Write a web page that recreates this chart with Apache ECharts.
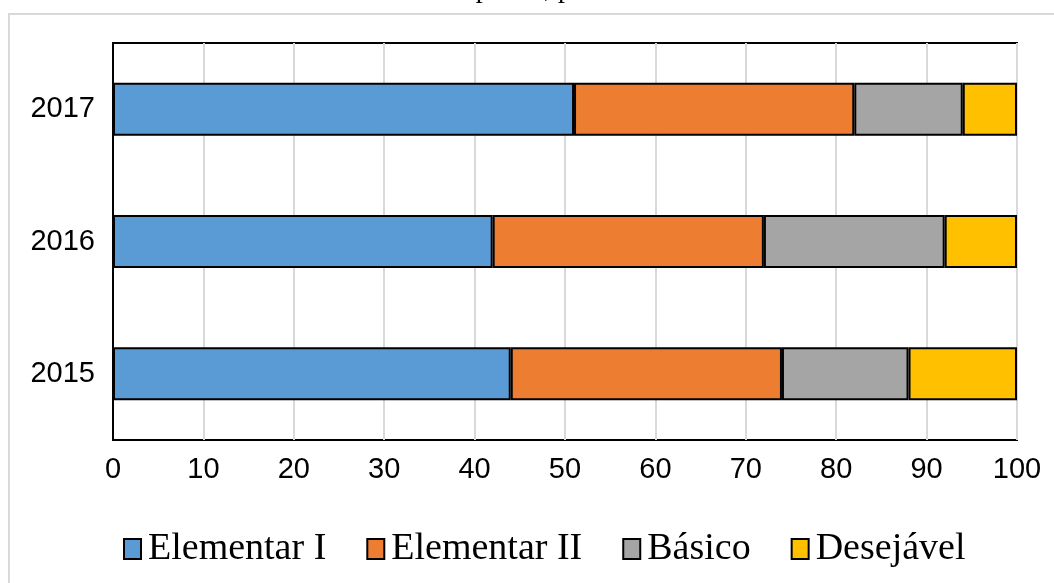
<!DOCTYPE html>
<html>
<head>
<meta charset="utf-8">
<script src="https://cdn.jsdelivr.net/npm/echarts@6/dist/echarts.min.js"></script>
<style>html,body{margin:0;padding:0;background:#fff;}#c{width:1054px;height:583px;}</style>
</head>
<body>
<div id="c"></div>
<script>
const years = ['2015', '2016', '2017'];
const elementarI = [44, 42, 51];
const elementarII = [30, 30, 31];
const basico = [14, 20, 12];
const desejavel = [12, 8, 6];
const xTicks = [0, 10, 20, 30, 40, 50, 60, 70, 80, 90, 100];
const titleText = 'desempenho, por ano.';

const seriesDefs = [
  {name: 'Elementar I', data: elementarI, color: '#5b9bd5'},
  {name: 'Elementar II', data: elementarII, color: '#ed7d31'},
  {name: 'Básico', data: basico, color: '#a5a5a5'},
  {name: 'Desejável', data: desejavel, color: '#ffc000'}
];

const chart = echarts.init(document.getElementById('c'), null, {renderer: 'canvas'});
chart.setOption({
  animation: false,
  backgroundColor: '#fff',
  graphic: [
    {type: 'rect', shape: {x: 9, y: 14, width: 1100, height: 620}, style: {fill: 'none', stroke: '#d9d9d9', lineWidth: 2}, z: -10},
    {type: 'text', left: 'center', top: -24, style: {text: titleText, font: '28px "Liberation Serif", "Times New Roman", serif', fill: '#000'}}
  ],
  grid: {left: 113, right: 37, top: 43, bottom: 143, show: true, borderColor: '#000', borderWidth: 2, backgroundColor: 'transparent'},
  legend: {
    bottom: 10, left: 118,
    itemWidth: 17, itemHeight: 20, itemGap: 40,
    icon: 'rect',
    textStyle: {fontFamily: '"Liberation Serif", "Times New Roman", serif', fontSize: 38, color: '#000', padding: [0, 0, 0, 2]},
    data: seriesDefs.map(s => s.name)
  },
  xAxis: {
    type: 'value', min: 0, max: 100, interval: 10,
    axisLine: {show: false}, axisTick: {show: false},
    splitLine: {show: true, lineStyle: {color: '#d9d9d9', width: 2}},
    axisLabel: {fontFamily: '"Liberation Sans", Arial, sans-serif', fontSize: 29, color: '#000', margin: 15,
      formatter: v => xTicks.includes(v) ? String(v) : ''}
  },
  yAxis: {
    type: 'category', data: years,
    axisLine: {show: true, lineStyle: {color: '#000', width: 2}}, axisTick: {show: false},
    axisLabel: {fontFamily: '"Liberation Sans", Arial, sans-serif', fontSize: 29, color: '#000', margin: 18}
  },
  series: seriesDefs.map(s => ({
    name: s.name, type: 'bar', stack: 'total', data: s.data, barWidth: '40%',
    itemStyle: {color: s.color, borderColor: '#000', borderWidth: 2},
    emphasis: {disabled: true}
  }))
});
</script>
</body>
</html>
